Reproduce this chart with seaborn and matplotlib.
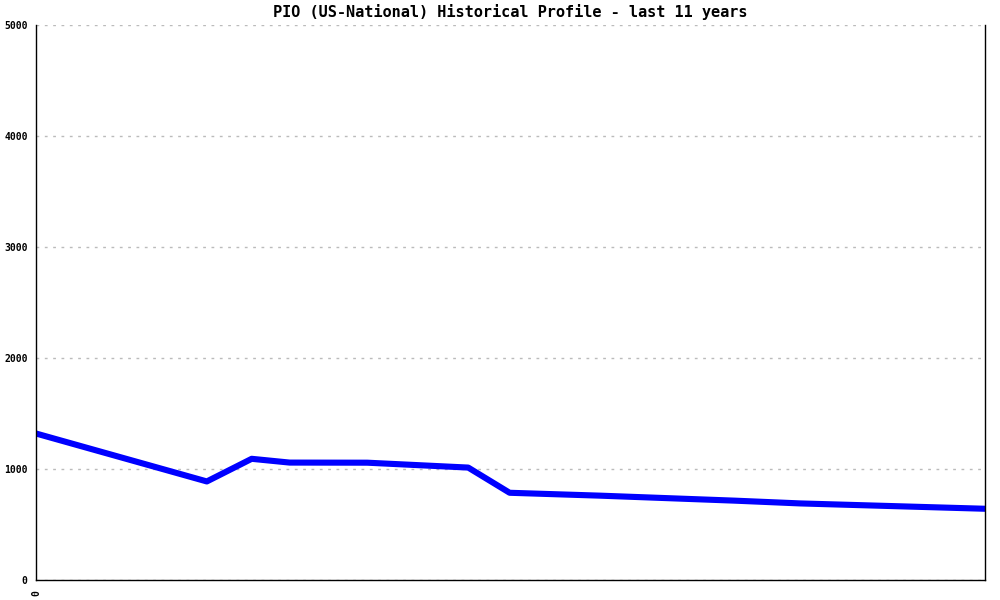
import seaborn as sns
import matplotlib.pyplot as plt
import pandas as pd

# positions along the 11-year span (years from start) and values
years = [0.0, 1.98, 2.50, 2.94, 3.84, 5.01, 5.49, 6.54, 8.10, 8.86, 11.0]
values = [1320, 888, 1092, 1058, 1057, 1013, 786, 760, 715, 690, 642]
y_ticks = [0, 1000, 2000, 3000, 4000, 5000]

df = pd.DataFrame({"year": years, "value": values})

sns.set_style("white")
plt.rcParams["font.family"] = ["DejaVu Sans Mono"]

fig = plt.figure(figsize=(10, 6), dpi=100)
ax = fig.add_axes([0.036, 0.0333, 0.949, 0.925])

sns.lineplot(data=df, x="year", y="value", color="#0000ff", linewidth=4.4, ax=ax)

ax.set_xlim(0, 11)
ax.set_ylim(0, 5000)
ax.set_yticks(y_ticks)
ax.set_yticklabels([str(t) for t in y_ticks], fontsize=7, fontweight="bold", color="black")
ax.set_xticks([0])
ax.set_xticklabels(["0"], rotation=90, fontsize=7, fontweight="bold", color="black")
ax.tick_params(axis="both", length=4, width=1, color="black", direction="out")
ax.tick_params(axis="y", pad=2)
ax.grid(axis="y", color="#bbbbbb", linestyle=(0, (2, 4)), linewidth=1)
ax.set_axisbelow(True)
for s in ["left", "bottom", "right"]:
    ax.spines[s].set_color("black")
    ax.spines[s].set_linewidth(1)
ax.spines["top"].set_visible(False)
ax.set_xlabel("")
ax.set_ylabel("")
ax.set_title("PIO (US-National) Historical Profile - last 11 years",
             fontsize=11, fontweight="bold", color="black", pad=6)

plt.savefig("out.png", dpi=100)
